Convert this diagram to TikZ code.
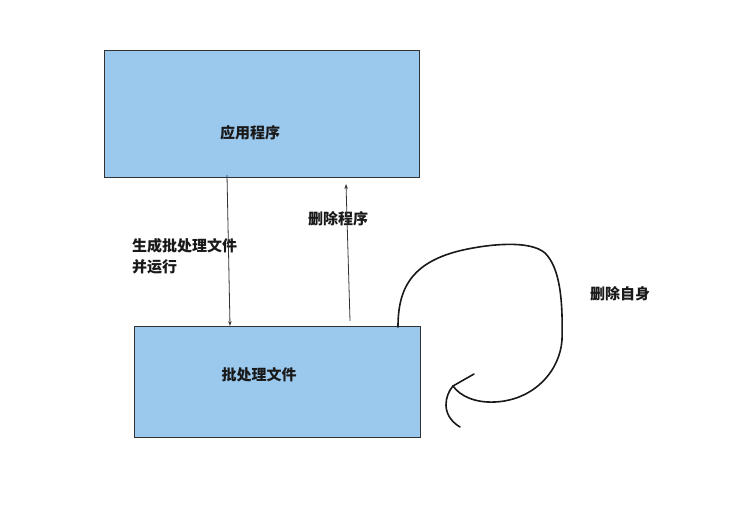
\documentclass[tikz,border=0pt]{standalone}
\usepackage{fontspec}
\newfontfamily\cjk{Noto Sans CJK SC}
\usetikzlibrary{arrows.meta}
\definecolor{boxblue}{RGB}{155,201,238}
\definecolor{edge}{RGB}{50,50,50}
\tikzset{
  blockbox/.style={draw=edge, line width=1pt, fill=boxblue, inner sep=0pt},
  lbl/.style={font=\cjk\bfseries\fontsize{15}{18}\selectfont, text=black!90, inner sep=0pt},
  conn/.style={draw=edge, line width=0.8pt, -{Stealth[length=5pt,width=3.5pt]}},
  hand/.style={draw=black!90, line width=1.6pt, line cap=round}
}
\begin{document}
\begin{tikzpicture}[x=1pt,y=-1pt]
\useasboundingbox (0,0) rectangle (756,518);
\node[blockbox, minimum width=315pt, minimum height=127pt] (app) at (261.5,114.5) {};
\node[blockbox, minimum width=286pt, minimum height=111pt] (bat) at (277,382.5) {};
\node[lbl] (appt) at (250,133) {应用程序};
\node[lbl] (batt) at (259,375) {批处理文件};
\node[lbl, anchor=west, align=left] (gen) at (132,256) {生成批处理文件\\[3pt]并运行};
\node[lbl] (del) at (338,219) {删除程序};
\node[lbl] (self) at (620,294) {删除自身};
\coordinate (a1s) at (227,175);
\coordinate (a1e) at (230,326);
\coordinate (a2s) at (350,321);
\coordinate (a2e) at (346,184);
\draw[conn] (a1s) -- (a1e);
\draw[conn] (a2s) -- (a2e);
\coordinate (cs) at (398,327);
\coordinate (ce) at (453,386);
\draw[hand] (cs) .. controls (398,290) and (410,262) .. (463,250)
  .. controls (490,244) and (530,240) .. (545,253)
  .. controls (560,268) and (563,300) .. (562,340)
  .. controls (560,370) and (535,400) .. (495,402)
  .. controls (475,403) and (460,396) .. (ce);
\draw[hand] (ce) -- (474,374);
\draw[hand] (ce) .. controls (445,395) and (440,415) .. (460,427);
\end{tikzpicture}
\end{document}
